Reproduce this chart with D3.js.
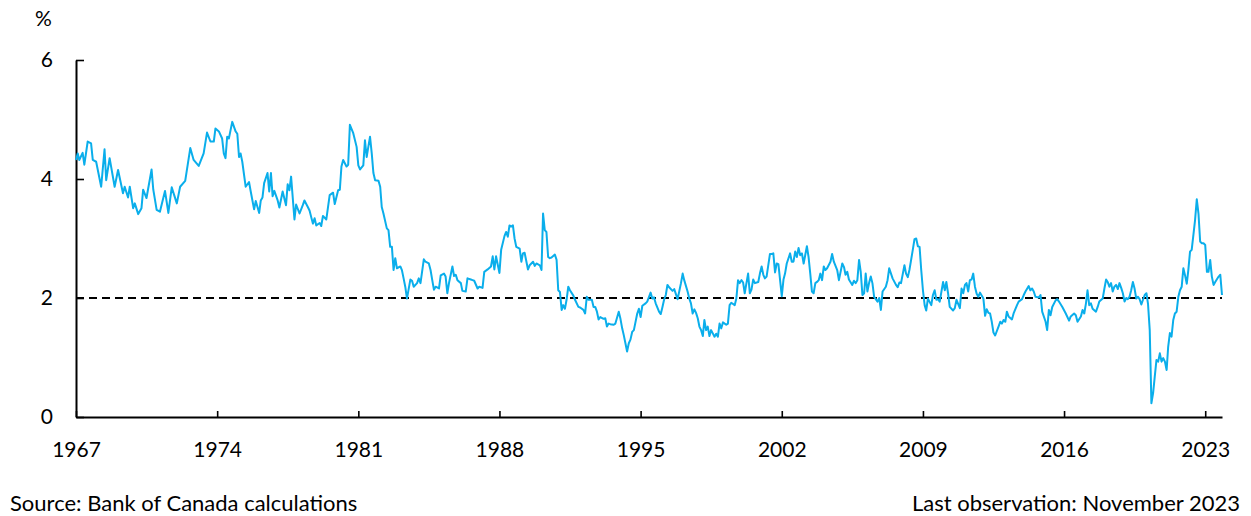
<!DOCTYPE html>
<html>
<head>
<meta charset="utf-8">
<script src="https://cdn.jsdelivr.net/npm/d3@7"></script>
<style>
  body { margin: 0; background: #fff; }
  text { font-family: Lato, "Open Sans", sans-serif; fill: #000; }
</style>
</head>
<body>
<div id="container"></div>
<script>
var obsDates = [
  "1967-01","1967-02","1967-03","1967-05","1967-06","1967-08","1967-10","1967-11",
  "1968-01","1968-04","1968-06","1968-07","1968-09","1968-12",
  "1969-02","1969-05","1969-06","1969-08","1969-09","1969-11","1969-12",
  "1970-02","1970-04","1970-05","1970-07","1970-10","1970-11",
  "1971-01","1971-03","1971-06","1971-08","1971-10",
  "1972-01","1972-03","1972-06","1972-09","1972-11",
  "1973-02","1973-05","1973-07","1973-09","1973-11","1973-12",
  "1974-02","1974-04","1974-05","1974-06","1974-07","1974-08","1974-10","1974-12",
  "1975-01","1975-02","1975-03","1975-04","1975-06","1975-08","1975-09","1975-11","1975-12",
  "1976-02","1976-03","1976-04","1976-05","1976-07","1976-08","1976-09","1976-10","1976-11",
  "1977-01","1977-02","1977-04","1977-06","1977-07","1977-08","1977-09","1977-11","1977-12",
  "1978-02","1978-04","1978-05","1978-07","1978-08","1978-10","1978-11","1978-12",
  "1979-02","1979-03","1979-04","1979-06","1979-08","1979-10","1979-11",
  "1980-01","1980-02","1980-03","1980-04","1980-06","1980-07","1980-08","1980-10","1980-12",
  "1981-01","1981-02","1981-04","1981-05","1981-06","1981-07","1981-08","1981-09","1981-10","1981-11",
  "1982-01","1982-02","1982-03","1982-04","1982-06","1982-07","1982-08","1982-09","1982-10","1982-11","1982-12",
  "1983-02","1983-03","1983-04","1983-05","1983-06","1983-08","1983-09","1983-10","1983-12",
  "1984-01","1984-02","1984-04","1984-05","1984-07","1984-08","1984-09","1984-10","1984-11",
  "1985-01","1985-02","1985-04","1985-05","1985-06","1985-07","1985-09","1985-10","1985-11","1985-12",
  "1986-02","1986-03","1986-05","1986-06","1986-08","1986-09","1986-10","1986-12",
  "1987-01","1987-03","1987-04","1987-06","1987-08","1987-09","1987-10","1987-11",
  "1988-01","1988-02","1988-04","1988-05","1988-06","1988-07","1988-08","1988-09","1988-10","1988-11",
  "1989-01","1989-02","1989-03","1989-04","1989-06","1989-07","1989-09","1989-10","1989-11",
  "1990-01","1990-02","1990-03","1990-04","1990-05","1990-06","1990-07","1990-08","1990-10","1990-11","1990-12",
  "1991-01","1991-02","1991-03","1991-04","1991-05","1991-06","1991-07","1991-09","1991-10","1991-12",
  "1992-01","1992-03","1992-04","1992-05","1992-06","1992-08","1992-09","1992-10","1992-11","1992-12",
  "1993-01","1993-03","1993-04","1993-05","1993-06","1993-07","1993-09","1993-10","1993-12",
  "1994-01","1994-02","1994-03","1994-04","1994-05","1994-06","1994-07","1994-08","1994-09","1994-11","1994-12",
  "1995-01","1995-02","1995-04","1995-05","1995-07","1995-08","1995-09","1995-10","1995-12",
  "1996-01","1996-02","1996-03","1996-04","1996-05","1996-06","1996-08","1996-09","1996-11",
  "1997-01","1997-02","1997-03","1997-05","1997-06","1997-07","1997-08","1997-09","1997-10","1997-11","1997-12",
  "1998-01","1998-02","1998-03","1998-04","1998-05","1998-06","1998-07","1998-09","1998-10","1998-11","1998-12",
  "1999-01","1999-02","1999-04","1999-05","1999-06","1999-07","1999-09","1999-10","1999-11","1999-12",
  "2000-01","2000-02","2000-03","2000-04","2000-05","2000-06","2000-07","2000-08","2000-09","2000-11","2000-12",
  "2001-01","2001-02","2001-03","2001-04","2001-06","2001-07","2001-08","2001-09","2001-10","2001-11",
  "2002-01","2002-02","2002-03","2002-04","2002-06","2002-07","2002-08","2002-09","2002-10","2002-11","2002-12",
  "2003-01","2003-02","2003-04","2003-05","2003-06","2003-07","2003-08","2003-09","2003-10","2003-11","2003-12",
  "2004-01","2004-02","2004-03","2004-04","2004-06","2004-07","2004-08","2004-10","2004-11",
  "2005-01","2005-02","2005-03","2005-04","2005-05","2005-07","2005-08","2005-09","2005-10","2005-11","2005-12",
  "2006-01","2006-02","2006-03","2006-04","2006-05","2006-06","2006-07","2006-08","2006-10","2006-11","2006-12",
  "2007-01","2007-03","2007-04","2007-05","2007-07","2007-09","2007-10","2007-11","2007-12",
  "2008-02","2008-03","2008-04","2008-05","2008-06","2008-07","2008-08","2008-09","2008-10","2008-11","2008-12",
  "2009-01","2009-02","2009-03","2009-04","2009-06","2009-07","2009-08","2009-09","2009-10","2009-11",
  "2010-01","2010-02","2010-03","2010-04","2010-05","2010-07","2010-08","2010-09","2010-11","2010-12",
  "2011-01","2011-02","2011-03","2011-04","2011-05","2011-06","2011-07","2011-08","2011-09","2011-10","2011-11",
  "2012-01","2012-02","2012-03","2012-04","2012-05","2012-06","2012-07","2012-08","2012-10","2012-11","2012-12",
  "2013-01","2013-02","2013-03","2013-04","2013-06","2013-07","2013-09","2013-10","2013-12",
  "2014-01","2014-02","2014-04","2014-05","2014-06","2014-07","2014-08","2014-10","2014-11","2014-12",
  "2015-02","2015-03","2015-04","2015-05","2015-06","2015-08","2015-09","2015-10","2015-12",
  "2016-02","2016-04","2016-05","2016-07","2016-08","2016-09","2016-11","2016-12",
  "2017-01","2017-02","2017-03","2017-04","2017-05","2017-06","2017-08","2017-09","2017-10","2017-12",
  "2018-01","2018-02","2018-03","2018-04","2018-05","2018-06","2018-07","2018-08","2018-09","2018-10","2018-11","2018-12",
  "2019-01","2019-02","2019-03","2019-04","2019-05","2019-06","2019-07","2019-08","2019-09","2019-10","2019-11","2019-12",
  "2020-01","2020-02","2020-03","2020-04","2020-05","2020-06","2020-07","2020-08","2020-09","2020-10","2020-11","2020-12",
  "2021-01","2021-02","2021-03","2021-04","2021-05","2021-06","2021-07","2021-08","2021-09","2021-10","2021-11","2021-12",
  "2022-01","2022-02","2022-03","2022-04","2022-05","2022-06","2022-07","2022-08","2022-09","2022-10","2022-11","2022-12",
  "2023-01","2023-02","2023-03","2023-04","2023-05","2023-06","2023-07","2023-09","2023-10","2023-11"
];

var obsValues = [
  4.32,4.43,4.32,4.44,4.24,4.63,4.60,4.32,
  4.29,3.87,4.50,3.98,4.35,3.87,
  4.15,3.76,3.87,3.69,3.87,3.51,3.59,
  3.41,3.51,3.82,3.68,4.16,3.82,
  3.48,3.45,3.80,3.43,3.86,
  3.59,3.87,3.97,4.52,4.32,
  4.22,4.43,4.78,4.63,4.63,4.85,
  4.80,4.68,4.43,4.35,4.71,4.68,4.96,4.80,
  4.76,4.37,4.43,4.29,3.87,3.95,3.79,3.49,3.63,
  3.43,3.64,3.69,3.93,4.10,3.79,4.10,3.71,3.80,
  3.64,3.52,3.79,3.56,3.91,3.81,4.04,3.32,3.57,
  3.42,3.56,3.64,3.53,3.47,3.25,3.34,3.22,
  3.26,3.21,3.38,3.32,3.73,3.77,3.58,
  3.81,3.82,4.21,4.32,4.21,4.24,4.91,4.77,4.54,
  4.23,4.16,4.23,4.65,4.37,4.54,4.71,4.43,4.10,3.98,
  3.97,3.87,3.53,3.42,3.17,3.14,2.86,2.86,2.47,2.67,2.50,
  2.53,2.47,2.33,2.19,1.99,2.31,2.29,2.19,2.25,
  2.33,2.25,2.65,2.61,2.58,2.47,2.30,2.14,2.19,
  2.16,2.38,2.41,2.36,2.08,2.25,2.53,2.37,2.39,2.30,
  2.25,2.12,2.11,2.33,2.31,2.30,2.29,2.16,
  2.19,2.17,2.44,2.48,2.53,2.70,2.48,2.70,
  2.42,2.81,3.04,3.11,3.03,3.22,3.20,3.22,3.00,2.86,
  2.83,2.61,2.75,2.76,2.48,2.55,2.61,2.54,2.58,
  2.55,2.47,3.42,3.14,3.11,2.69,2.67,2.68,2.73,2.64,2.13,
  2.10,1.80,1.88,1.82,1.97,2.19,2.13,2.04,1.97,1.85,
  1.84,1.80,1.74,2.02,1.97,1.97,1.85,1.85,1.77,1.64,
  1.68,1.65,1.66,1.52,1.57,1.56,1.55,1.57,1.77,
  1.65,1.49,1.38,1.24,1.10,1.24,1.30,1.43,1.46,1.74,1.82,
  1.68,1.87,1.91,1.94,2.09,1.99,2.01,1.91,1.77,
  1.73,1.85,1.97,2.05,2.22,2.18,2.12,2.15,1.98,
  2.25,2.41,2.30,2.11,1.99,1.91,1.74,1.81,1.75,1.66,1.52,
  1.46,1.36,1.63,1.46,1.52,1.36,1.46,1.35,1.40,1.35,1.57,
  1.49,1.59,1.55,1.57,1.88,1.92,1.88,1.99,2.30,2.25,
  2.30,2.26,2.08,2.25,2.41,2.08,2.14,2.31,2.25,2.27,2.41,
  2.53,2.39,2.33,2.36,2.74,2.74,2.75,2.43,2.58,2.57,
  2.03,2.31,2.41,2.58,2.75,2.61,2.61,2.78,2.69,2.84,2.72,
  2.75,2.58,2.87,2.69,2.41,2.11,2.08,2.25,2.27,2.30,2.41,
  2.30,2.53,2.47,2.50,2.61,2.74,2.61,2.47,2.30,
  2.58,2.52,2.39,2.44,2.31,2.22,2.29,2.25,2.30,2.64,2.44,
  2.05,2.08,2.41,2.11,2.25,2.36,2.25,2.02,1.94,2.00,1.80,
  2.11,2.19,2.30,2.50,2.33,2.22,2.18,2.26,2.25,
  2.55,2.41,2.35,2.47,2.64,2.81,2.99,3.00,2.87,2.86,2.47,
  2.13,1.88,1.79,1.99,1.88,2.05,2.13,1.97,1.98,1.94,
  2.27,2.13,2.27,2.08,1.85,1.79,1.83,1.97,1.83,2.16,
  2.08,2.22,2.25,2.11,2.30,2.31,2.41,2.19,2.07,2.02,2.09,
  1.99,1.70,1.81,1.75,1.74,1.60,1.42,1.37,1.52,1.60,1.57,
  1.63,1.60,1.77,1.69,1.64,1.74,1.88,1.94,1.98,
  2.05,2.11,2.20,2.13,2.16,2.11,2.02,2.01,2.05,1.77,
  1.60,1.46,1.80,1.71,1.85,1.96,1.98,1.94,1.85,
  1.74,1.62,1.69,1.74,1.71,1.60,1.69,1.80,
  1.74,1.91,2.13,1.88,1.91,1.82,1.77,1.85,1.94,1.99,
  2.16,2.31,2.27,2.19,2.25,2.11,2.19,2.22,2.15,2.25,2.17,2.08,
  1.94,2.00,1.98,2.02,2.13,2.27,2.16,1.99,2.02,1.98,1.89,1.97,
  2.05,2.08,1.90,1.46,0.23,0.40,0.68,0.96,0.93,1.07,0.93,0.99,
  0.93,0.79,1.18,1.41,1.35,1.63,1.74,1.77,2.02,2.13,2.19,2.50,
  2.38,2.24,2.47,2.78,2.81,3.06,3.31,3.66,3.42,2.95,2.92,2.92,
  2.89,2.44,2.44,2.64,2.36,2.22,2.27,2.36,2.39,2.05
];

var yearTicks = [1967, 1974, 1981, 1988, 1995, 2002, 2009, 2016, 2023];
var valueTicks = [0, 2, 4, 6];
var targetLevel = 2;
var firstMonth = "1967-01", lastMonth = "2023-11";
var unitLabel = "%";
var sourceNote = "Source: Bank of Canada calculations";
var lastObsNote = "Last observation: November 2023";

var margin = {top: 60, right: 29, bottom: 99, left: 76},
    fullWidth = 1251,
    fullHeight = 516,
    width = fullWidth - margin.left - margin.right,
    height = fullHeight - margin.top - margin.bottom;

var parseMonth = d3.timeParse("%Y-%m");

var series = obsDates.map(function(d, i) {
    return {date: parseMonth(d), value: obsValues[i]};
});

var svg = d3.select("#container")
    .append("svg")
        .attr("width", fullWidth)
        .attr("height", fullHeight);

var g = svg.append("g")
    .attr("transform", "translate(" + margin.left + "," + margin.top + ")");

var x = d3.scaleTime()
    .domain([parseMonth(firstMonth), parseMonth(lastMonth)])
    .range([0, width]);

var y = d3.scaleLinear()
    .domain([0, 6])
    .range([height, 0]);

// x axis, ticks pointing up into the plot
var xAxis = g.append("g")
    .attr("transform", "translate(0," + height + ")")
    .call(d3.axisBottom(x)
        .tickValues(yearTicks.map(function(yr) { return new Date(yr, 0, 1); }))
        .tickFormat(d3.timeFormat("%Y"))
        .tickSizeInner(-6)
        .tickSizeOuter(0)
        .tickPadding(25));

// y axis, ticks pointing right
var yAxis = g.append("g")
    .call(d3.axisLeft(y)
        .tickValues(valueTicks)
        .tickFormat(d3.format("d"))
        .tickSizeInner(-8)
        .tickSizeOuter(0)
        .tickPadding(23));

[xAxis, yAxis].forEach(function(ax) {
    ax.select(".domain").attr("stroke", "#000").attr("stroke-width", 2);
    ax.selectAll(".tick line").attr("stroke", "#000").attr("stroke-width", 1.6);
    ax.selectAll(".tick text")
        .attr("font-family", "Lato, 'Open Sans', sans-serif")
        .attr("font-size", 21)
        .attr("fill", "#000");
});

// 2% reference line
g.append("line")
    .attr("x1", 0)
    .attr("x2", width)
    .attr("y1", y(targetLevel))
    .attr("y2", y(targetLevel))
    .attr("stroke", "#000")
    .attr("stroke-width", 2)
    .attr("stroke-dasharray", "8,5");

var line = d3.line()
    .x(function(d) { return x(d.date); })
    .y(function(d) { return y(d.value); });

g.append("path")
    .datum(series)
    .attr("fill", "none")
    .attr("stroke", "#0AAEEB")
    .attr("stroke-width", 2)
    .attr("stroke-linejoin", "round")
    .attr("d", line);

svg.append("text")
    .attr("x", 35)
    .attr("y", 26)
    .attr("font-size", 21)
    .text(unitLabel);

svg.append("text")
    .attr("x", 10)
    .attr("y", 511)
    .attr("font-size", 22)
    .text(sourceNote);

svg.append("text")
    .attr("x", 1240)
    .attr("y", 511)
    .attr("text-anchor", "end")
    .attr("font-size", 22)
    .text(lastObsNote);
</script>
</body>
</html>
